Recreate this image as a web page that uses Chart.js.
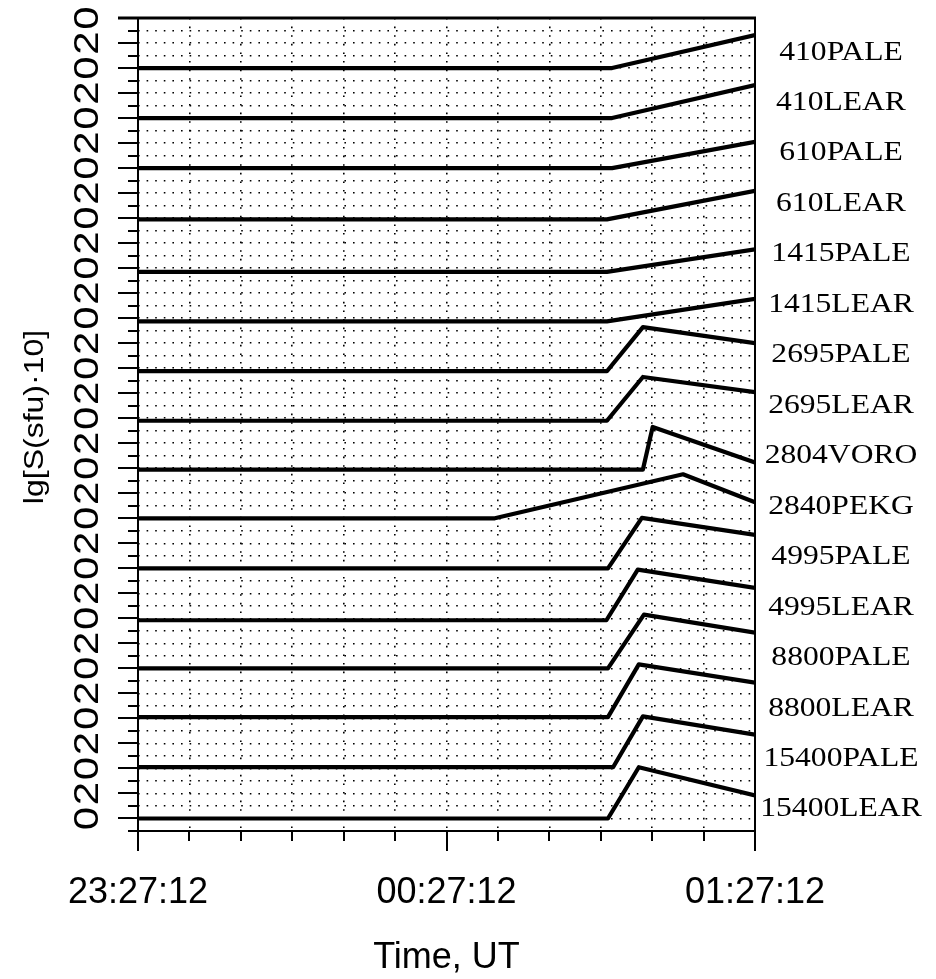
<!DOCTYPE html>
<html>
<head>
<meta charset="utf-8">
<script src="https://cdn.jsdelivr.net/npm/chart.js@4.4.1/dist/chart.umd.min.js"></script>
<style>
  html, body { margin: 0; padding: 0; background: #fff; }
  #wrap { width: 936px; height: 979px; }
</style>
</head>
<body>
<div id="wrap"><canvas id="fluxChart" width="936" height="979"></canvas></div>
<script>
// Records, top panel to bottom panel
const stations = [
  "410PALE", "410LEAR", "610PALE", "610LEAR", "1415PALE", "1415LEAR",
  "2695PALE", "2695LEAR", "2804VORO", "2840PEKG", "4995PALE", "4995LEAR",
  "8800PALE", "8800LEAR", "15400PALE", "15400LEAR"
];

// break points, minutes after 23:27:12 UT
const seriesTimes = [
  [0, 92.2, 120],
  [0, 92.2, 120],
  [0, 92.2, 120],
  [0, 91.2, 120],
  [0, 91.2, 120],
  [0, 91.2, 120],
  [0, 91.2, 98.2, 120],
  [0, 91.2, 98.2, 120],
  [0, 98.2, 100.1, 120],
  [0, 69.4, 106.0, 120],
  [0, 91.4, 98.0, 120],
  [0, 91.1, 97.2, 120],
  [0, 91.4, 98.4, 120],
  [0, 91.4, 97.4, 120],
  [0, 92.4, 98.2, 120],
  [0, 91.4, 97.4, 120]
];

// lg[S(sfu)*10] inside each panel (panel height = 4 units)
const seriesValues = [
  [0, 0, 2.64],
  [0, 0, 2.64],
  [0, 0, 2.1],
  [-0.1, -0.1, 2.18],
  [-0.3, -0.3, 1.5],
  [-0.25, -0.25, 1.55],
  [-0.24, -0.24, 3.28, 2.0],
  [-0.2, -0.2, 3.3, 2.08],
  [-0.1, -0.1, 3.3, 0.46],
  [0, 0, 3.52, 1.28],
  [0, 0, 4.04, 2.67],
  [-0.15, -0.15, 3.9, 2.44],
  [0, 0, 4.3, 2.86],
  [0.1, 0.1, 4.32, 2.86],
  [0.1, 0.1, 4.16, 2.7],
  [0, 0, 4.1, 1.84]
];

const xTickMinutes = [0, 60, 120];
const xTickLabels = ["23:27:12", "00:27:12", "01:27:12"];
const yTickLabels = ["0", "2"];
const panelStep = 4;

const nPanels = stations.length;

const datasets = stations.map((name, i) => {
  const base = (nPanels - 1 - i) * panelStep;
  return {
    label: name,
    data: seriesTimes[i].map((t, k) => ({ x: t, y: seriesValues[i][k] + base })),
    borderColor: "#000",
    borderWidth: 4.2,
    borderJoinStyle: "round",
    borderCapStyle: "round",
    pointRadius: 0,
    tension: 0,
    fill: false
  };
});

// draws text squeezed / stretched around (x, y)
function drawText(ctx, txt, x, y, opts) {
  ctx.save();
  ctx.translate(x, y);
  ctx.scale(opts.sx || 1, opts.sy || 1);
  if (opts.rotate) ctx.rotate(opts.rotate);
  ctx.font = opts.font;
  ctx.textAlign = opts.align || "center";
  ctx.textBaseline = "alphabetic";
  ctx.fillText(txt, 0, 0);
  ctx.restore();
}

const framePlugin = {
  id: "frame",
  afterDraw(chart) {
    const { ctx, chartArea: a, scales: { x, y } } = chart;
    ctx.save();
    ctx.strokeStyle = "#000";
    ctx.fillStyle = "#000";
    ctx.lineWidth = 2;

    // frame lines
    ctx.beginPath();
    ctx.moveTo(a.left, a.top);
    ctx.lineTo(a.left, a.bottom + 20);
    ctx.moveTo(a.right, a.top);
    ctx.lineTo(a.right, a.bottom + 20);
    ctx.moveTo(a.left - 10, a.bottom);
    ctx.lineTo(a.right, a.bottom);
    ctx.stroke();
    ctx.lineWidth = 2.8;
    ctx.beginPath();
    ctx.moveTo(a.left - 20, a.top);
    ctx.lineTo(a.right + 1, a.top);
    ctx.stroke();

    // y ticks: long on even values
    ctx.lineWidth = 2;
    ctx.beginPath();
    for (let v = y.min; v <= y.max; v++) {
      const py = Math.round(y.getPixelForValue(v));
      const len = v % 2 === 0 ? 20 : 10;
      ctx.moveTo(a.left - len, py);
      ctx.lineTo(a.left, py);
    }
    // x ticks: long on the hour
    for (let m = x.min; m <= x.max; m += 10) {
      const px = Math.round(x.getPixelForValue(m));
      const len = m % 60 === 0 ? 20 : 10;
      ctx.moveTo(px, a.bottom);
      ctx.lineTo(px, a.bottom + len);
    }
    ctx.stroke();

    // rotated y tick labels
    for (let v = 0; v <= y.max; v += 2) {
      const py = y.getPixelForValue(v);
      drawText(ctx, yTickLabels[(v / 2) % 2], 98, py, {
        font: "42px 'Liberation Sans', Arial, sans-serif",
        sx: 0.85, rotate: -Math.PI / 2
      });
    }

    // y title
    drawText(ctx, "lg[S(sfu)\u00b710]", 43, 417, {
      font: "32px 'Liberation Sans', Arial, sans-serif",
      sx: 0.85, rotate: -Math.PI / 2
    });

    // x tick labels
    xTickMinutes.forEach((m, k) => {
      drawText(ctx, xTickLabels[k], x.getPixelForValue(m), a.bottom + 72, {
        font: "36px 'Liberation Sans', Arial, sans-serif"
      });
    });

    // x title
    drawText(ctx, "Time, UT", x.getPixelForValue(60), a.bottom + 137, {
      font: "36px 'Liberation Sans', Arial, sans-serif"
    });

    // station names on the right
    const yTop = y.getPixelForValue((nPanels - 1) * panelStep + 1.4);
    const yBot = y.getPixelForValue(0.88);
    stations.forEach((name, i) => {
      const py = yTop + (yBot - yTop) * i / (nPanels - 1);
      drawText(ctx, name, a.right + 86, py + 9, {
        font: "27px 'Liberation Serif', 'Times New Roman', serif",
        sx: 1.17
      });
    });

    ctx.restore();
  }
};

const gridDots = {
  color: "#000",
  lineWidth: 1.6,
  drawTicks: false
};

new Chart(document.getElementById("fluxChart"), {
  type: "line",
  data: { datasets },
  options: {
    responsive: false,
    animation: false,
    devicePixelRatio: 1,
    layout: { padding: { left: 138, right: 181, top: 18, bottom: 148 } },
    plugins: {
      legend: { display: false },
      tooltip: { enabled: false }
    },
    scales: {
      x: {
        type: "linear",
        min: 0,
        max: 120,
        ticks: { display: false, stepSize: 10 },
        grid: gridDots,
        border: { display: false, dash: [1.6, 7] },
        afterFit: s => { s.height = 0; }
      },
      y: {
        type: "linear",
        min: -1,
        max: 64,
        ticks: { display: false, stepSize: 1 },
        grid: gridDots,
        border: { display: false, dash: [1.6, 7] },
        afterFit: s => { s.width = 0; }
      }
    }
  },
  plugins: [framePlugin]
});
</script>
</body>
</html>
